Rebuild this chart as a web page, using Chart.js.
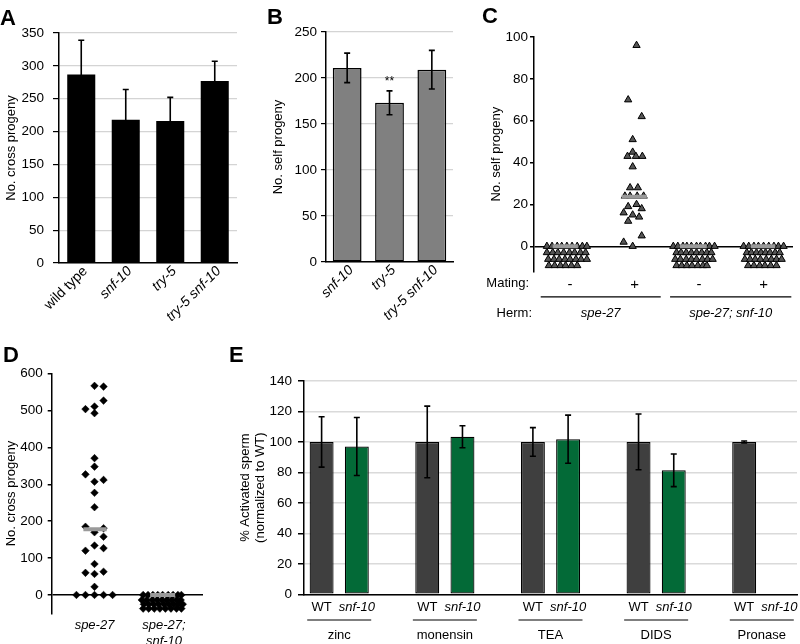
<!DOCTYPE html>
<html>
<head>
<meta charset="utf-8">
<script src="https://cdn.jsdelivr.net/npm/chart.js@4.4.1/dist/chart.umd.min.js"></script>
<style>
  body { margin: 0; background: #fff; }
  #fig { position: relative; width: 800px; height: 644px; overflow: hidden; background: #fff;
         font-family: "Liberation Sans", Arial, sans-serif; }
  .panel { position: absolute; }
  .lbl { position: absolute; font-weight: bold; font-size: 22px; line-height: 22px; color: #000; }
</style>
</head>
<body>
<div id="fig">
  <div class="panel" style="left:0;top:0;width:250px;height:330px"><canvas id="chA"></canvas></div>
  <div class="panel" style="left:267px;top:0;width:195px;height:330px"><canvas id="chB"></canvas></div>
  <div class="panel" style="left:485px;top:0;width:315px;height:330px"><canvas id="chC"></canvas></div>
  <div class="panel" style="left:0;top:335px;width:230px;height:309px"><canvas id="chD"></canvas></div>
  <div class="panel" style="left:232px;top:340px;width:568px;height:304px"><canvas id="chE"></canvas></div>
  <div class="lbl" style="left:0;top:7px">A</div>
  <div class="lbl" style="left:267px;top:6px">B</div>
  <div class="lbl" style="left:482px;top:5px">C</div>
  <div class="lbl" style="left:3px;top:344px">D</div>
  <div class="lbl" style="left:229px;top:344px">E</div>
</div>
<script>
// A - cross progeny
const aLabels = ['wild type', 'snf-10', 'try-5', 'try-5 snf-10'];
const aMeans = [287, 218, 216, 277];
const aErr = [52, 46, 36, 30];

// B - self progeny
const bLabels = ['snf-10', 'try-5', 'try-5 snf-10'];
const bMeans = [211, 173, 209];
const bErr = [16, 13, 21];

// C - self progeny after mating (triangles)
const cMating = ['-', '+', '-', '+'];
const cHerm = ['spe-27', 'spe-27; snf-10'];
const cG1X = [0.64,0.72,0.80,0.87,0.95,1.03,1.11,1.19,1.26, 0.64,0.73,0.81,0.90,0.99,1.07,1.16,1.24,
              0.66,0.75,0.83,0.92,1.00,1.09,1.17,1.26, 0.67,0.76,0.85,0.93,1.02,1.11];
const cG1Y = [0,0,0,0,0,0,0,0,0, -3,-3,-3,-3,-3,-3,-3,-3, -6.2,-6.2,-6.2,-6.2,-6.2,-6.2,-6.2,-6.2,
              -9.2,-9.2,-9.2,-9.2,-9.2,-9.2];
const cG2X = [2.03,1.90,2.11,1.97,1.97,1.89,2.02,2.12,1.97,1.93,2.05,1.85,1.93,2.04,2.14,
              2.03,1.90,2.11,1.83,1.97,2.07,1.90,2.11,1.83,1.97];
const cG2Y = [96,70,62,51,45,43,43,43,38,28,28,24,24,24,24,20,19,18,16,15,14,12,5,2,0];
const cG3X = [2.60,2.67,2.75,2.81,2.88,2.96,3.02,3.10,3.16,3.24, 2.65,2.72,2.80,2.88,2.96,3.04,3.12,3.19,
              2.63,2.71,2.80,2.88,2.96,3.05,3.13,3.21, 2.65,2.73,2.81,2.89,2.98,3.06,3.12];
const cG3Y = [0,0,0,0,0,0,0,0,0,0, -3,-3,-3,-3,-3,-3,-3,-3, -6.2,-6.2,-6.2,-6.2,-6.2,-6.2,-6.2,-6.2,
              -9.2,-9.2,-9.2,-9.2,-9.2,-9.2,-9.2];
const cG4X = [3.69,3.77,3.85,3.92,4.00,4.08,4.16,4.23,4.31, 3.74,3.81,3.89,3.96,4.03,4.10,4.18,4.25,
              3.71,3.79,3.87,3.95,4.04,4.12,4.20,4.28, 3.76,3.85,3.94,4.02,4.11,4.20];
const cG4Y = [0,0,0,0,0,0,0,0,0, -3,-3,-3,-3,-3,-3,-3,-3, -6.2,-6.2,-6.2,-6.2,-6.2,-6.2,-6.2,-6.2,
              -9.2,-9.2,-9.2,-9.2,-9.2,-9.2];
const cMeans = [0, 23.7, 0, 0];
const cMeanFrom = [0.73, 1.80, 2.70, 3.80];
const cMeanTo = [1.12, 2.19, 3.12, 4.18];

// D - cross progeny (diamonds)
const dLabels = [['spe-27'], ['spe-27;', 'snf-10']];
const dG1X = [1.00,1.13,1.13,1.00,0.87,1.00,1.00,1.00,0.87,1.13,1.00,1.00,1.00,0.87,1.13,
              1.00,1.13,1.00,1.13,0.87,1.00,1.13,0.87,1.00,1.00,0.74,0.87,1.00,1.13,1.26];
const dG1Y = [567,565,527,511,504,493,371,348,327,312,307,277,238,185,181,
              170,158,134,127,120,84,63,60,57,22,0,0,0,0,0];
const dG2X = [1.70,1.77,1.84,1.91,1.98,2.06,2.13,2.20,2.25, 1.68,1.75,1.83,1.90,1.97,2.04,2.11,2.18,2.24,
              1.71,1.78,1.85,1.92,2.00,2.07,2.14,2.21,2.27, 1.70,1.78,1.86,1.94,2.02,2.10,2.18,2.25];
const dG2Y = [0,0,0,0,0,0,0,0,0, -13.6,-13.6,-13.6,-13.6,-13.6,-13.6,-13.6,-13.6,-13.6,
              -25,-25,-25,-25,-25,-25,-25,-25,-25, -37,-37,-37,-37,-37,-37,-37,-37];
const dMeans = [178, 0];
const dMeanFrom = [0.84, 1.80];
const dMeanTo = [1.175, 2.16];

// E - activated sperm
const eGroups = ['zinc', 'monensin', 'TEA', 'DIDS', 'Pronase'];
const eWT = [100, 100, 100, 100, 100];
const eWTErr = [16.5, 23.5, 9.4, 18.3, 0.6];
const eSnf = [97, 103.4, 101.8, 81.4, 0];
const eSnfErr = [19, 7.2, 15.8, 10.7, null];

Chart.defaults.font.family = '"Liberation Sans", Arial, sans-serif';
Chart.defaults.font.size = 13;
Chart.defaults.color = '#000';
Chart.defaults.animation = false;
Chart.defaults.plugins.legend.display = false;
Chart.defaults.plugins.tooltip.enabled = false;

function fitY(w) { return s => { s.width = w; s.paddingTop = 0; s.paddingBottom = 0; }; }
function fitX(h) { return s => { s.height = h; s.paddingLeft = 0; s.paddingRight = 0; }; }
function onlyPositive(s) { s.ticks = s.ticks.filter(t => t.value >= 0); }

const errorBars = {
  id: 'errorBars',
  afterDatasetsDraw(chart) {
    const ctx = chart.ctx, y = chart.scales.y;
    chart.data.datasets.forEach((ds, di) => {
      if (!ds.errors) return;
      chart.getDatasetMeta(di).data.forEach((bar, i) => {
        const e = ds.errors[i], v = ds.data[i];
        if (e == null || v == null) return;
        const top = y.getPixelForValue(v + e), bot = y.getPixelForValue(v - e);
        ctx.save();
        ctx.strokeStyle = '#000';
        ctx.lineWidth = 1.6;
        ctx.beginPath();
        ctx.moveTo(bar.x, top); ctx.lineTo(bar.x, bot);
        ctx.moveTo(bar.x - 3, top); ctx.lineTo(bar.x + 3, top);
        ctx.moveTo(bar.x - 3, bot); ctx.lineTo(bar.x + 3, bot);
        ctx.stroke();
        ctx.restore();
      });
    });
  }
};

function yTitle(text, pad) {
  return { display: true, text: text, padding: { top: pad, bottom: 0 }, font: { size: 13, lineHeight: 1.15 } };
}

// ---------- A
new Chart(document.getElementById('chA'), {
  type: 'bar',
  data: { labels: aLabels, datasets: [{ data: aMeans, errors: aErr, backgroundColor: '#000',
    categoryPercentage: 1, barPercentage: 0.63 }] },
  options: {
    responsive: true, maintainAspectRatio: false,
    layout: { padding: { left: 0, top: 33, right: 13, bottom: 0 } },
    scales: {
      x: { afterFit: fitX(67), grid: { display: false }, border: { color: '#000', width: 1.5 },
        ticks: { minRotation: 45, maxRotation: 45, autoSkip: false, padding: -8, labelOffset: 4,
          font: c => ({ size: 14, style: c.index === 0 ? 'normal' : 'italic' }) } },
      y: { min: 0, max: 350, afterFit: fitY(59), border: { color: '#000', width: 1.5 },
        grid: { color: '#d4d4d4', lineWidth: 1.2, tickColor: '#000', tickLength: 6 },
        ticks: { stepSize: 50, padding: 9, font: { size: 13.5 } },
        title: yTitle('No. cross progeny', 3.5) }
    }
  },
  plugins: [errorBars]
});

// ---------- B
const starPlugin = {
  id: 'stars',
  afterDatasetsDraw(chart) {
    const ctx = chart.ctx, bar = chart.getDatasetMeta(0).data[1];
    const y = chart.scales.y.getPixelForValue(bMeans[1] + bErr[1]);
    ctx.save();
    ctx.font = '12px "Liberation Sans", Arial, sans-serif';
    ctx.textAlign = 'center'; ctx.textBaseline = 'middle'; ctx.fillStyle = '#000';
    ctx.fillText('**', bar.x, y - 9);
    ctx.restore();
  }
};
new Chart(document.getElementById('chB'), {
  type: 'bar',
  data: { labels: bLabels, datasets: [{ data: bMeans, errors: bErr, backgroundColor: '#808080',
    borderColor: '#000', borderWidth: 1.5, borderSkipped: false, categoryPercentage: 1, barPercentage: 0.68 }] },
  options: {
    responsive: true, maintainAspectRatio: false,
    layout: { padding: { left: 0, top: 32, right: 9, bottom: 0 } },
    scales: {
      x: { afterFit: fitX(68), grid: { display: false }, border: { color: '#000', width: 1.5 },
        ticks: { minRotation: 45, maxRotation: 45, autoSkip: false, padding: -8, labelOffset: 4,
          font: { size: 14, style: 'italic' } } },
      y: { min: 0, max: 250, afterFit: fitY(59), border: { color: '#000', width: 1.5 },
        grid: { color: '#d4d4d4', lineWidth: 1.2, tickColor: '#000', tickLength: 5 },
        ticks: { stepSize: 50, padding: 4, font: { size: 13.5 } },
        title: yTitle('No. self progeny', 3.5) }
    }
  },
  plugins: [errorBars, starPlugin]
});

// ---------- C
const cAnnot = {
  id: 'cAnnot',
  afterDraw(chart) {
    const ctx = chart.ctx, x = chart.scales.x, a = chart.chartArea;
    ctx.save();
    ctx.fillStyle = '#000'; ctx.strokeStyle = '#000'; ctx.lineWidth = 1.2;
    ctx.font = '13px "Liberation Sans", Arial, sans-serif';
    ctx.textBaseline = 'middle'; ctx.textAlign = 'right';
    ctx.fillText('Mating:', a.left - 5, a.bottom + 12.5);
    ctx.fillText('Herm:', a.left - 2, a.bottom + 42);
    const spans = [[0.544, 2.405], [2.55, 4.43]];
    ctx.textAlign = 'center';
    ctx.font = 'italic 13px "Liberation Sans", Arial, sans-serif';
    spans.forEach((s, i) => {
      const x0 = x.getPixelForValue(s[0]), x1 = x.getPixelForValue(s[1]);
      ctx.beginPath(); ctx.moveTo(x0, a.bottom + 25.5); ctx.lineTo(x1, a.bottom + 25.5); ctx.stroke();
      ctx.fillText(cHerm[i], (x0 + x1) / 2, a.bottom + 42);
    });
    ctx.restore();
  }
};
const triStyle = { pointStyle: 'triangle', pointRadius: 4.2, backgroundColor: '#555', borderColor: '#000',
  pointBorderWidth: 1, showLine: false, order: 2 };
const cSets = [[cG1X, cG1Y], [cG2X, cG2Y], [cG3X, cG3Y], [cG4X, cG4Y]].map(g =>
  Object.assign({ type: 'scatter', data: g[0].map((v, i) => ({ x: v, y: g[1][i] })) }, triStyle));
cMeans.forEach((m, i) => cSets.unshift({ type: 'line', order: 0, borderColor: '#9a9a9a', borderWidth: 4,
  pointRadius: 0, data: [{ x: cMeanFrom[i], y: m }, { x: cMeanTo[i], y: m }] }));
new Chart(document.getElementById('chC'), {
  type: 'scatter',
  data: { datasets: cSets },
  options: {
    responsive: true, maintainAspectRatio: false,
    layout: { padding: { left: 0, top: 37, right: 7, bottom: 0 } },
    scales: {
      x: { type: 'linear', min: 0.44, max: 4.456, afterFit: fitX(58.6),
        afterBuildTicks: s => { s.ticks = [1, 2, 3, 4].map(v => ({ value: v })); },
        grid: { display: false, drawTicks: false }, border: { display: false },
        ticks: { padding: 4, font: { size: 15 }, callback: (v, i) => cMating[i] } },
      y: { min: -12, max: 100, afterFit: fitY(49), afterBuildTicks: onlyPositive,
        border: { color: '#000', width: 1.5 },
        grid: { color: c => c.tick && c.tick.value === 0 ? '#000' : 'transparent', lineWidth: 1.5,
          tickColor: '#000', tickLength: 4 },
        ticks: { stepSize: 20, padding: 2, font: { size: 13.5 } },
        title: yTitle('No. self progeny', 3.5) }
    }
  },
  plugins: [cAnnot]
});

// ---------- D
const diaStyle = { pointStyle: 'rectRot', pointRadius: 3.8, backgroundColor: '#000', borderColor: '#000',
  pointBorderWidth: 0.5, showLine: false, order: 2 };
const dSets = [[dG1X, dG1Y], [dG2X, dG2Y]].map(g =>
  Object.assign({ type: 'scatter', data: g[0].map((v, i) => ({ x: v, y: g[1][i] })) }, diaStyle));
dMeans.forEach((m, i) => dSets.unshift({ type: 'line', order: 0, borderColor: '#9a9a9a', borderWidth: 4,
  pointRadius: 0, data: [{ x: dMeanFrom[i], y: m }, { x: dMeanTo[i], y: m }] }));
new Chart(document.getElementById('chD'), {
  type: 'scatter',
  data: { datasets: dSets },
  options: {
    responsive: true, maintainAspectRatio: false,
    layout: { padding: { left: 0, top: 38.7, right: 27, bottom: 0 } },
    scales: {
      x: { type: 'linear', min: 0.384, max: 2.561, afterFit: fitX(30.6),
        afterBuildTicks: s => { s.ticks = [1, 2].map(v => ({ value: v })); },
        grid: { display: false, drawTicks: false }, border: { display: false },
        ticks: { padding: 4, font: { size: 13, style: 'italic', lineHeight: 1.25 }, callback: (v, i) => dLabels[i] } },
      y: { min: -50, max: 600, afterFit: fitY(51.7), afterBuildTicks: onlyPositive,
        border: { color: '#000', width: 1.5 },
        grid: { color: c => c.tick && c.tick.value === 0 ? '#000' : 'transparent', lineWidth: 1.5,
          tickColor: '#000', tickLength: 4 },
        ticks: { stepSize: 100, padding: 5, font: { size: 13.5 } },
        title: yTitle('No. cross progeny', 3.5) }
    }
  }
});

// ---------- E
const wtColor = '#3f3f3f', snfColor = '#036a37';
const eLabels = [], eData = [], eErrs = [], eColors = [];
eGroups.forEach((g, i) => {
  eLabels.push('WT', 'snf-10'); eData.push(eWT[i], eSnf[i]); eErrs.push(eWTErr[i], eSnfErr[i]);
  eColors.push(wtColor, snfColor);
  if (i < eGroups.length - 1) { eLabels.push(''); eData.push(null); eErrs.push(null); eColors.push(wtColor); }
});
const eAnnot = {
  id: 'eAnnot',
  afterDraw(chart) {
    const ctx = chart.ctx, x = chart.scales.x, a = chart.chartArea;
    ctx.save();
    ctx.fillStyle = '#000'; ctx.strokeStyle = '#000'; ctx.lineWidth = 1.2;
    ctx.font = '13px "Liberation Sans", Arial, sans-serif';
    ctx.textAlign = 'center'; ctx.textBaseline = 'middle';
    eGroups.forEach((g, i) => {
      const cx = (x.getPixelForValue(i * 3) + x.getPixelForValue(i * 3 + 1)) / 2;
      ctx.beginPath(); ctx.moveTo(cx - 32, a.bottom + 25.7); ctx.lineTo(cx + 32, a.bottom + 25.7); ctx.stroke();
      ctx.fillText(g, cx, a.bottom + 41);
    });
    ctx.restore();
  }
};
new Chart(document.getElementById('chE'), {
  type: 'bar',
  data: { labels: eLabels, datasets: [{ data: eData, errors: eErrs, backgroundColor: eColors,
    borderColor: '#000', borderWidth: 1.2, borderSkipped: false, categoryPercentage: 1, barPercentage: 0.68 }] },
  options: {
    responsive: true, maintainAspectRatio: false,
    layout: { padding: { left: 0, top: 41, right: 3, bottom: 0 } },
    scales: {
      x: { afterFit: fitX(49.7), grid: { display: false, drawTicks: false }, border: { color: '#000', width: 1.5 },
        ticks: { autoSkip: false, maxRotation: 0, padding: 5,
          font: c => ({ size: 13, style: eLabels[c.index] === 'snf-10' ? 'italic' : 'normal' }) } },
      y: { min: 0, max: 140, afterFit: fitY(72), border: { color: '#000', width: 1.5 },
        grid: { color: '#dadada', lineWidth: 1.5, tickColor: '#000', tickLength: 6 },
        ticks: { stepSize: 20, padding: 6, font: { size: 13.5 } },
        title: yTitle(['% Activated sperm', '(normalized to WT)'], 5.5) }
    }
  },
  plugins: [errorBars, eAnnot]
});
</script>
</body>
</html>
